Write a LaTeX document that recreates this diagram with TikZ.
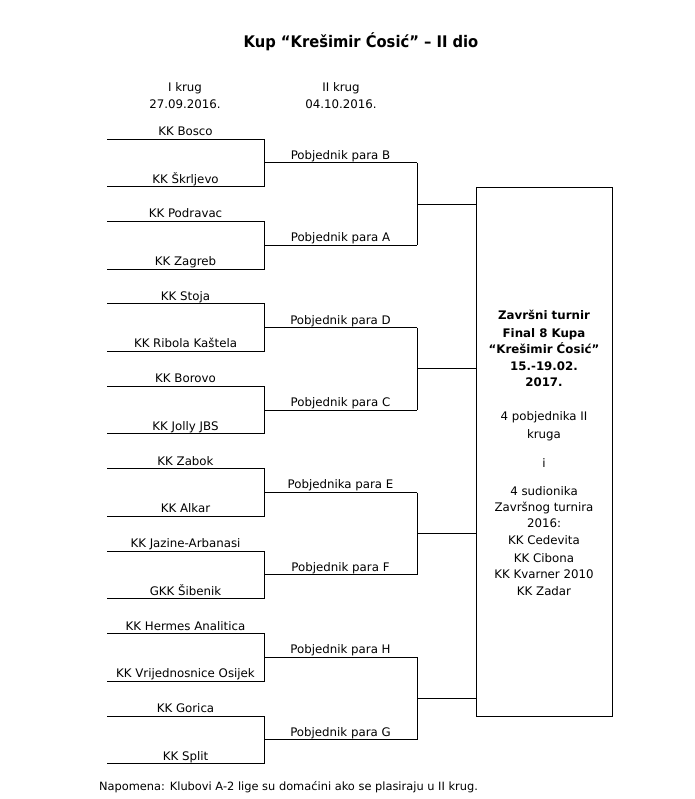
\documentclass[tikz,border=0pt]{standalone}
\usepackage{fontspec}
\setmainfont{DejaVu Sans}
\newfontfamily\titlefont{DejaVu Sans}[FakeStretch=0.92]
\usetikzlibrary{calc}
\begin{document}
\begin{tikzpicture}[x=1bp,y=-1bp,
  wire/.style={line width=1bp, black},
  lab/.style={anchor=base, inner sep=0pt, font=\fontsize{11.8bp}{14bp}\selectfont},
  boldlab/.style={lab, font=\fontsize{11.8bp}{14bp}\selectfont\bfseries},
  notelab/.style={lab, font=\fontsize{11.4bp}{14bp}\selectfont},
  titlelab/.style={anchor=base, inner sep=0pt, font=\titlefont\bfseries\fontsize{16bp}{18bp}\selectfont},
  finalbox/.style={draw, line width=1bp, minimum width=136bp, minimum height=529bp, inner sep=0pt, anchor=north west}
]
\fill[white] (0,0) rectangle (695,799);
\useasboundingbox (0,0) rectangle (695,799);

\node[titlelab] (title) at (361,48) {Kup “Krešimir Ćosić” – II dio};

\node[lab] (h1a) at (185,91.5) {I krug};
\node[lab] (h1b) at (185,108) {27.09.2016.};
\node[lab] (h2a) at (341,91.5) {II krug};
\node[lab] (h2b) at (341,108) {04.10.2016.};

\node[finalbox] (box) at (476,187) {};

\foreach \a/\b/\w [count=\k from 0] in {
  KK Bosco/KK Škrljevo/Pobjednik para B,
  KK Podravac/KK Zagreb/Pobjednik para A,
  KK Stoja/KK Ribola Kaštela/Pobjednik para D,
  KK Borovo/KK Jolly JBS/Pobjednik para C,
  KK Zabok/KK Alkar/Pobjednika para E,
  KK Jazine-Arbanasi/GKK Šibenik/Pobjednik para F,
  KK Hermes Analitica/KK Vrijednosnice Osijek/Pobjednik para H,
  KK Gorica/KK Split/Pobjednik para G} {
  \pgfmathsetmacro\yt{139+82.43*\k}
  \pgfmathsetmacro\yb{\yt+47.6}
  \pgfmathsetmacro\ym{\yt+23.8}
  \coordinate (A\k) at (107,\yt);
  \coordinate (Ae\k) at (264,\yt);
  \coordinate (B\k) at (107,\yb);
  \coordinate (Be\k) at (264,\yb);
  \coordinate (W\k) at (264,\ym);
  \coordinate (We\k) at (417,\ym);
  \draw[wire] (A\k) -- (Ae\k) -- (Be\k) -- (B\k);
  \draw[wire] (W\k) -- (We\k);
  \node[lab] (na\k) at (185.5,\yt-3.5) {\a};
  \node[lab] (nb\k) at (185.5,\yb-3.5) {\b};
  \node[lab] (nw\k) at (340.5,\ym-3.6) {\w};
}

\foreach \j/\u/\v in {0/0/1,1/2/3,2/4/5,3/6/7} {
  \draw[wire] (We\u) -- (We\v);
  \coordinate (M\j) at ($(We\u)!.5!(We\v)$);
  \draw[wire] (M\j) -- (M\j -| box.west);
}

\foreach \t/\y [count=\i] in {Završni turnir/319, Final 8 Kupa/337, “Krešimir Ćosić”/353, 15.-19.02./370, 2017./386}
  \node[boldlab] (fb\i) at (544,\y) {\t};

\foreach \t/\y [count=\i] in {4 pobjednika II/420, kruga/438, i/467, 4 sudionika/495, Završnog turnira/511, 2016:/527, KK Cedevita/544, KK Cibona/562, KK Kvarner 2010/578, KK Zadar/595}
  \node[lab] (fr\i) at (544,\y) {\t};

\node[notelab] (note) at (288.5,790.5) {Napomena: Klubovi A-2 lige su domaćini ako se plasiraju u II krug.};
\end{tikzpicture}
\end{document}
